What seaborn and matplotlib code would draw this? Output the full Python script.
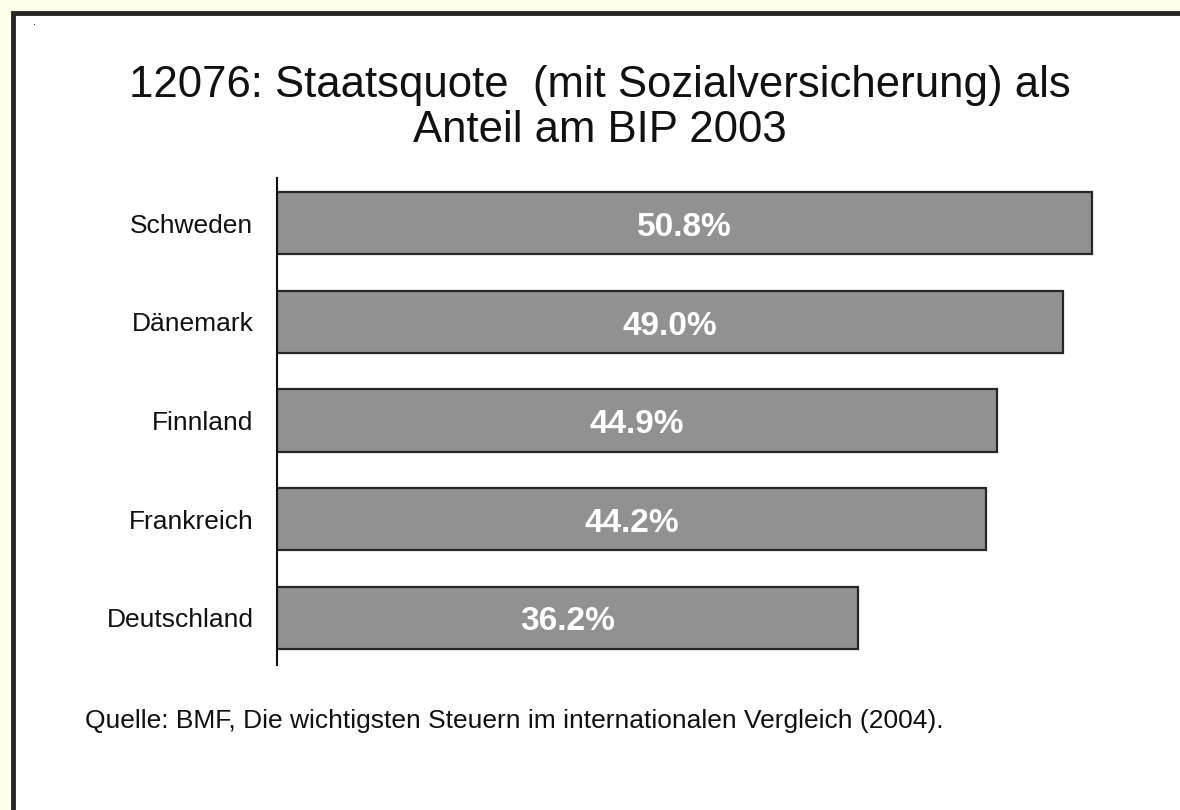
import matplotlib
matplotlib.use("Agg")
import matplotlib.pyplot as plt
import seaborn as sns
import pandas as pd
from matplotlib.patches import Rectangle

countries = ["Schweden", "Dänemark", "Finnland", "Frankreich", "Deutschland"]
values = [50.8, 49.0, 44.9, 44.2, 36.2]
bar_labels = ["50.8%", "49.0%", "44.9%", "44.2%", "36.2%"]
title_text = "12076: Staatsquote  (mit Sozialversicherung) als\nAnteil am BIP 2003"
source_text = "Quelle: BMF, Die wichtigsten Steuern im internationalen Vergleich (2004)."

df = pd.DataFrame({"Land": countries, "Wert": values})

sns.set_theme(style="white")
plt.rcParams["font.family"] = ["Liberation Sans", "DejaVu Sans"]

W, H = 1180, 810
fig = plt.figure(figsize=(W / 100, H / 100), dpi=100)
fig.patch.set_facecolor("#FFFFEC")

# white page with dark frame (extends past right/bottom edges)
frame = Rectangle((12.5 / W, -0.05), 1.1, (H - 12.5) / H + 0.05,
                  transform=fig.transFigure, facecolor="white",
                  edgecolor="#2b2626", linewidth=3.5, zorder=-5)
fig.patches.append(frame)
fig.text(34 / W, 1 - 27 / H, ".", fontsize=8, color="black", ha="center", va="bottom")

left_px, right_px = 277, 277 + 52 * 16.04
top_px, bot_px = 178, 665
ax = fig.add_axes([left_px / W, 1 - bot_px / H, (right_px - left_px) / W, (bot_px - top_px) / H])
ax.set_facecolor("none")
ax.set_zorder(2)

sns.barplot(data=df, x="Wert", y="Land", orient="h", color="#919191",
            edgecolor="#262626", linewidth=1.6, width=0.63, saturation=1, ax=ax)

ax.set_xlim(0, 52)
ax.set_ylim(4.48, -0.46)
ax.set_xlabel("")
ax.set_ylabel("")
ax.set_xticks([])
for s in ["top", "right", "bottom"]:
    ax.spines[s].set_visible(False)
ax.spines["left"].set_color("#111111")
ax.spines["left"].set_linewidth(1.5)
ax.tick_params(axis="y", length=0, pad=17, labelsize=19, labelcolor="#111111")

texts = ax.bar_label(ax.containers[0], labels=bar_labels, label_type="center",
                     color="white", fontsize=24, fontweight="bold")
for t in texts:
    t.xyann = (0, -3)

fig.text(600 / W, 1 - 108 / H, title_text, ha="center", va="center",
         fontsize=31.5, color="#111111", linespacing=1.12)
fig.text(85 / W, 1 - 721 / H, source_text, ha="left", va="center",
         fontsize=19, color="#111111")

fig.savefig("out.png", dpi=100, facecolor=fig.get_facecolor())
